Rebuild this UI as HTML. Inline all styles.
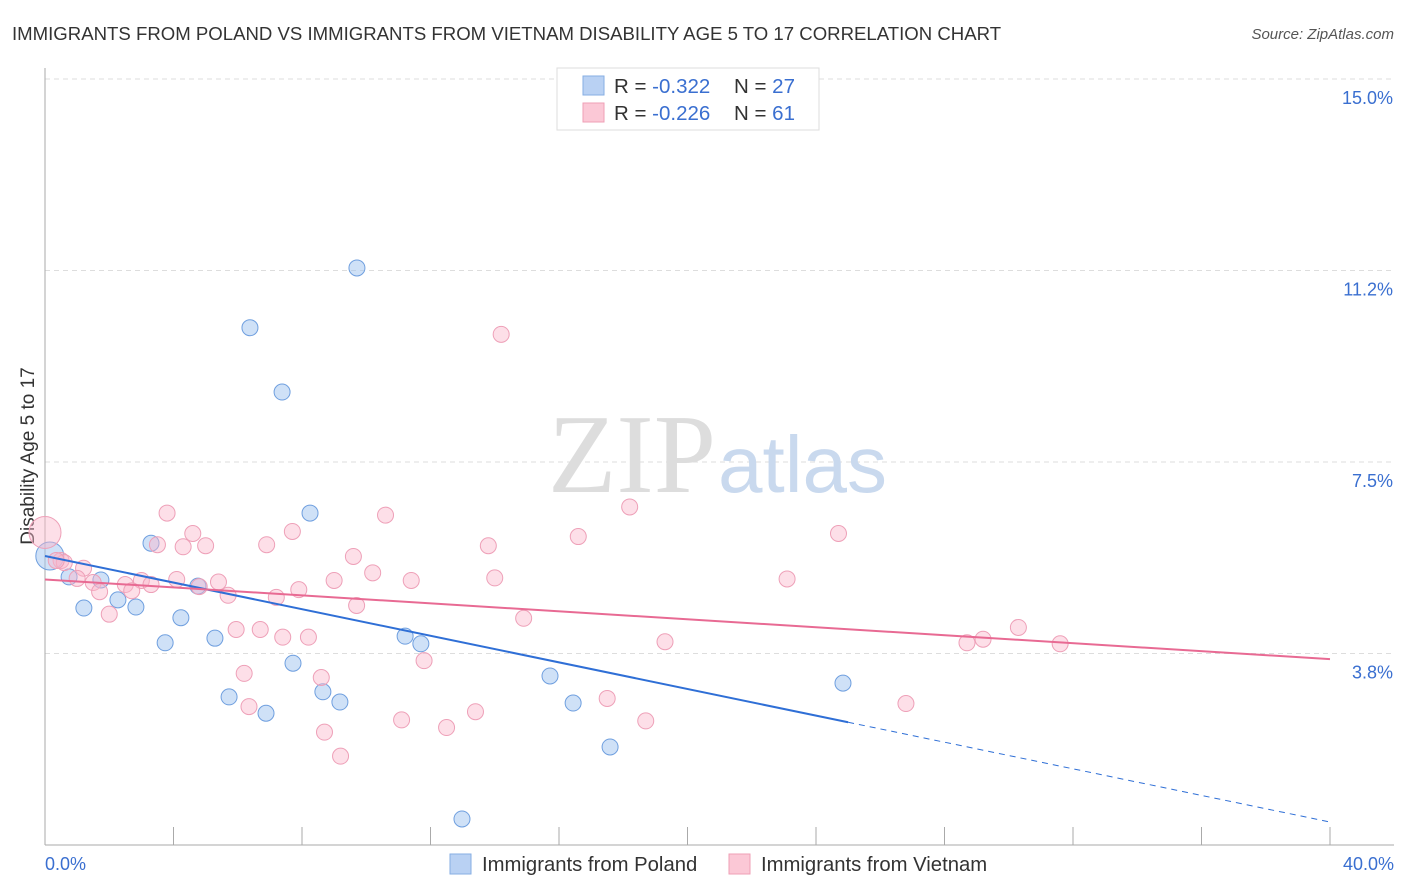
<!DOCTYPE html>
<html><head><meta charset="utf-8"><style>
body{margin:0;background:#fff;font-family:"Liberation Sans",sans-serif;}
svg{display:block}
</style></head><body>
<svg id="chart" width="1406" height="892" xmlns="http://www.w3.org/2000/svg" font-family="Liberation Sans, sans-serif">
<text x="12" y="40" font-size="18.6" fill="#333">IMMIGRANTS FROM POLAND VS IMMIGRANTS FROM VIETNAM DISABILITY AGE 5 TO 17 CORRELATION CHART</text>
<text x="1394" y="39" font-size="15" fill="#555" font-style="italic" text-anchor="end">Source: ZipAtlas.com</text>
<text transform="translate(34,456) rotate(-90)" font-size="19" fill="#333" text-anchor="middle">Disability Age 5 to 17</text>
<g id="grid"></g>
<text x="716" y="492" font-size="112" text-anchor="end" fill="#ddd" font-family="Liberation Serif, serif">ZIP</text>
<text x="718" y="492" font-size="80" fill="#c9d9ee">atlas</text>
<g id="axes"></g>
<g id="marks"></g>
<g>
<rect x="557" y="68" width="262" height="62" fill="#fff" stroke="#ddd"/>
<rect x="583" y="76" width="21" height="19" fill="#b9d1f3" stroke="#86aee3"/>
<rect x="583" y="103" width="21" height="19" fill="#fbc8d6" stroke="#ef9fb6"/>
<text x="614" y="93" font-size="20.5" fill="#333">R = <tspan fill="#3a6fd0">-0.322</tspan></text>
<text x="734" y="93" font-size="20.5" fill="#333">N = <tspan fill="#3a6fd0">27</tspan></text>
<text x="614" y="120" font-size="20.5" fill="#333">R = <tspan fill="#3a6fd0">-0.226</tspan></text>
<text x="734" y="120" font-size="20.5" fill="#333">N = <tspan fill="#3a6fd0"> 61</tspan></text>
</g>
<g>
<rect x="450" y="854" width="21" height="20" fill="#b9d1f3" stroke="#86aee3"/>
<text x="482" y="871" font-size="20.3" fill="#333">Immigrants from Poland</text>
<rect x="729" y="854" width="21" height="20" fill="#fbc8d6" stroke="#ef9fb6"/>
<text x="761" y="871" font-size="20.3" fill="#333">Immigrants from Vietnam</text>
</g>
</svg>
<script>
const yTicks=[15.0,11.25,7.5,3.75];
const yTickLabels=["15.0%","11.2%","7.5%","3.8%"];
const xTickLabels=["0.0%","40.0%"];
const polandX=[9.71,6.38,7.38,8.25,3.30,0.75,1.74,4.76,2.27,2.83,1.21,4.23,3.74,5.29,11.21,11.70,7.72,15.72,24.84,8.65,5.73,9.18,16.44,6.88,17.59,12.98,0.15];
const polandY=[11.30,10.13,8.87,6.50,5.91,5.25,5.19,5.07,4.80,4.66,4.64,4.45,3.96,4.05,4.09,3.94,3.56,3.31,3.17,3.00,2.90,2.80,2.78,2.58,1.92,0.51,5.66];
const vietnamX=[0.0,14.2,3.8,18.2,10.6,7.7,4.6,16.6,24.7,3.5,4.3,5.0,6.9,13.8,9.6,0.5,1.2,10.2,14.0,23.1,5.4,9.0,11.4,4.1,3.0,3.3,1.5,2.5,4.8,7.9,2.7,1.7,5.7,7.2,9.7,2.0,14.9,30.3,5.95,6.7,7.4,8.2,29.2,28.7,31.6,19.3,11.8,6.2,8.6,17.5,26.8,6.35,13.4,11.1,18.7,12.5,8.7,9.2,1.0,0.6,0.35];
const vietnamY=[6.12,10.00,6.50,6.62,6.46,6.14,6.10,6.04,6.10,5.88,5.84,5.86,5.88,5.86,5.65,5.57,5.42,5.33,5.23,5.21,5.15,5.18,5.18,5.20,5.18,5.10,5.14,5.10,5.06,5.00,4.98,4.96,4.89,4.85,4.69,4.52,4.44,4.26,4.22,4.22,4.07,4.07,4.03,3.96,3.94,3.98,3.61,3.36,3.28,2.87,2.77,2.71,2.61,2.45,2.43,2.30,2.21,1.74,5.22,5.53,5.57];
const polandSize=[8,8,8,8,8,8,8,8,8,8,8,8,8,8,8,8,8,8,8,8,8,8,8,8,8,8,14];
const polandTrend=[5.66,0.45];
const vietnamTrend=[5.20,3.64];
const X0=45,X1=1330,XMAX=40,YTOP=79,YBOT=845,YMAX=15;
const xs=v=>X0+(v/XMAX)*(X1-X0);
const ys=v=>YBOT-(v/YMAX)*(YBOT-YTOP);
const NS="http://www.w3.org/2000/svg";
function mk(tag,attrs,parent){const e=document.createElementNS(NS,tag);for(const k in attrs)e.setAttribute(k,attrs[k]);parent.appendChild(e);return e;}
const grid=document.getElementById('grid'),axes=document.getElementById('axes'),marks=document.getElementById('marks');
yTicks.forEach((t,i)=>{
 const l=mk('line',{x1:X0,x2:1394,y1:ys(t),y2:ys(t),stroke:'#ddd','stroke-dasharray':'5,4'},grid);
 
 
 const tx=mk('text',{x:1393,y:ys(t)+25,'font-size':18,fill:'#3a6fd0','text-anchor':'end'},axes);
 tx.textContent=yTickLabels[i];
 
 
});
const ya=mk('line',{x1:X0,x2:X0,y1:68,y2:YBOT,stroke:'#aaa'},axes);


const xa=mk('line',{x1:X0,x2:1394,y1:YBOT,y2:YBOT,stroke:'#aaa'},axes);


for(let i=0;i<=10;i++){const x=X0+i*(X1-X0)/10;const t=mk('line',{x1:x,x2:x,y1:827,y2:YBOT,stroke:'#aaa'},axes);
 
 }
[[X0+0,'start',xTickLabels[0]],[1394,'end',xTickLabels[1]]].forEach(([x,a,s])=>{const t=mk('text',{x:x,y:870,'font-size':18,fill:'#3a6fd0','text-anchor':a},axes);t.textContent=s;
 
 });
polandX.forEach((v,i)=>{const c=mk('circle',{cx:xs(v),cy:ys(polandY[i]),r:polandSize[i],fill:'rgba(160,195,240,0.5)',stroke:'#6f9fdf','stroke-width':1},marks);
 
 });
vietnamX.forEach((v,i)=>{const c=mk('circle',{cx:xs(v),cy:ys(vietnamY[i]),r:i==0?16:8,fill:'rgba(250,185,205,0.45)',stroke:'#eea0b8','stroke-width':1},marks);
 
 });
const bAt=x=>polandTrend[0]+(polandTrend[1]-polandTrend[0])*x/XMAX;
const l1=mk('line',{x1:xs(0),y1:ys(bAt(0)),x2:xs(25),y2:ys(bAt(25)),stroke:'#2f6fd6','stroke-width':2},marks);


const l2=mk('line',{x1:xs(25),y1:ys(bAt(25)),x2:xs(40),y2:ys(bAt(40)),stroke:'#2f6fd6','stroke-width':1,'stroke-dasharray':'6,5'},marks);


const l3=mk('line',{x1:xs(0),y1:ys(vietnamTrend[0]),x2:xs(40),y2:ys(vietnamTrend[1]),stroke:'#e86a93','stroke-width':2},marks);


</script>
</body></html>
